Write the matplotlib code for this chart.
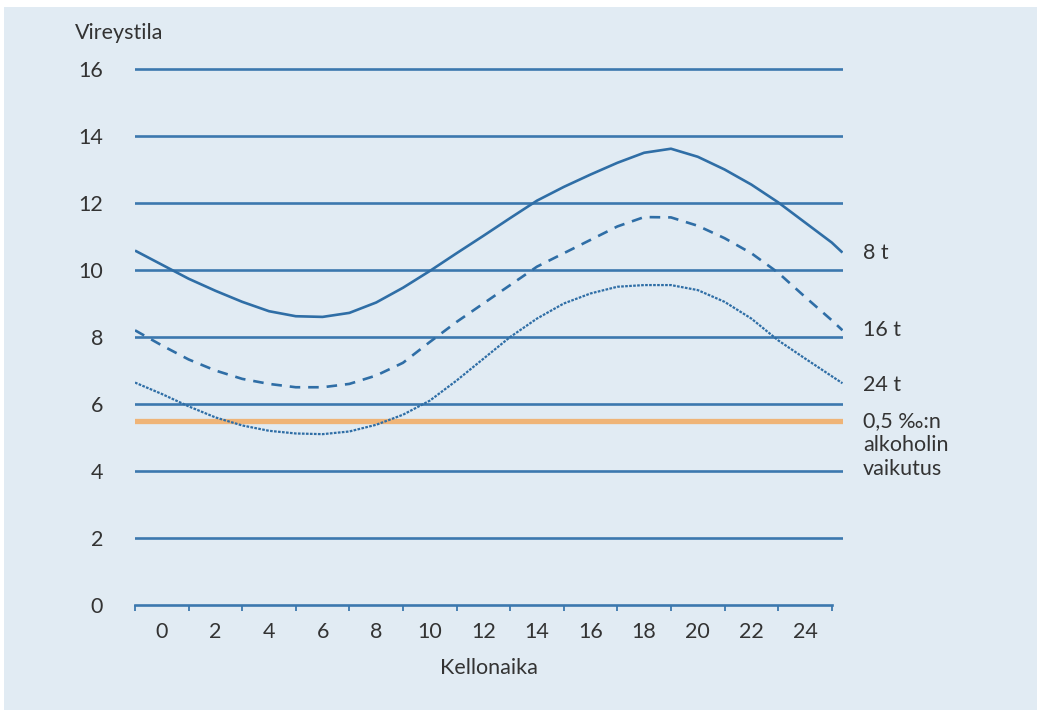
import matplotlib
matplotlib.use("Agg")
import matplotlib.pyplot as plt
from matplotlib.patches import Rectangle

plt.rcParams['font.family'] = ['Lato', 'DejaVu Sans']

# ---- data ----
hours = [-1, 0, 1, 2, 3, 4, 5, 6, 7, 8, 9, 10, 11, 12, 13, 14, 15, 16, 17, 18,
         19, 20, 21, 22, 23, 24, 25, 25.4]
awake_8h = [10.58, 10.16, 9.74, 9.38, 9.05, 8.77, 8.62, 8.60, 8.72, 9.03, 9.47, 9.97,
            10.50, 11.02, 11.55, 12.07, 12.48, 12.85, 13.20, 13.50, 13.62, 13.38,
            13.00, 12.55, 12.02, 11.42, 10.82, 10.52]
awake_16h = [8.20, 7.75, 7.33, 7.00, 6.75, 6.60, 6.50, 6.50, 6.60, 6.85, 7.23, 7.85,
             8.45, 9.00, 9.55, 10.10, 10.50, 10.90, 11.30, 11.58, 11.57, 11.32,
             10.95, 10.50, 9.92, 9.20, 8.50, 8.20]
awake_24h = [6.64, 6.30, 5.93, 5.60, 5.36, 5.20, 5.12, 5.10, 5.18, 5.38, 5.68, 6.10,
             6.70, 7.35, 8.00, 8.55, 9.00, 9.30, 9.50, 9.55, 9.55, 9.40,
             9.05, 8.55, 7.90, 7.36, 6.83, 6.62]
alcohol_level = 5.5
grid_values = [2, 4, 6, 8, 10, 12, 14, 16]
ytick_values = [0, 2, 4, 6, 8, 10, 12, 14, 16]
xlabel_values = list(range(0, 25, 2))
xtick_marks = list(range(-1, 26, 2))
curve_labels = ["8 t", "16 t", "24 t"]
alcohol_label = "0,5 \u2030:n\nalkoholin\nvaikutus"

W, H = 1039, 712
BLUE = '#2f6ea6'
GRID = '#3c78ae'
ORANGE = '#efb477'
TEXT = '#333333'
BG = '#e1ebf3'
FS = 15.5

fig = plt.figure(figsize=(W / 100, H / 100), dpi=100, facecolor='white')
fig.patches.append(Rectangle((4 / W, 2 / H), 1033 / W, 703 / H,
                             transform=fig.transFigure, facecolor=BG,
                             edgecolor='none', zorder=-10))

x0, x1 = -1, 25.42
left_px, right_px = 135, 843
y0_px = 605
px_per_unit = 33.5
ytop = 17
ax = fig.add_axes([left_px / W, (H - y0_px) / H, (right_px - left_px) / W,
                   ytop * px_per_unit / H])
ax.set_facecolor('none')
ax.set_xlim(x0, x1)
ax.set_ylim(0, ytop)

for g in grid_values:
    ax.axhline(g, color=GRID, lw=1.9, zorder=1)
ax.axhline(alcohol_level, color=ORANGE, lw=3.8, zorder=2)

ax.plot(hours, awake_8h, color=BLUE, lw=1.9, zorder=3, solid_capstyle='butt',
        solid_joinstyle='round')
ax.plot(hours, awake_16h, color=BLUE, lw=1.9, zorder=3, dashes=(4, 3))
ax.plot(hours, awake_24h, color=BLUE, lw=1.6, zorder=3, dashes=(1.2, 0.6))

for s in ['top', 'right', 'left']:
    ax.spines[s].set_visible(False)
ax.spines['bottom'].set_color(GRID)
ax.spines['bottom'].set_linewidth(1.9)
ax.spines['bottom'].set_bounds(-1, 25)

ax.set_xticks(xtick_marks)
ax.set_xticklabels([])
ax.tick_params(axis='x', which='major', direction='out', length=4, width=1.3,
               color=GRID)
ax.set_xticks(xlabel_values, minor=True)
ax.set_xticklabels([str(v) for v in xlabel_values], minor=True)
ax.tick_params(axis='x', which='minor', length=0, pad=12, labelsize=FS,
               labelcolor=TEXT)

ax.set_yticks(ytick_values)
ax.set_yticklabels([str(v) for v in ytick_values])
ax.tick_params(axis='y', length=0, pad=23, labelsize=FS, labelcolor=TEXT)

ax.set_xlabel("Kellonaika", fontsize=FS, color=TEXT, labelpad=12)
fig.text(75 / W, 1 - 33 / H, "Vireystila", fontsize=FS, color=TEXT,
         ha='left', va='center')

label_x = 25.42 + 20 / 26.8
ax.text(label_x, awake_8h[-1], curve_labels[0], fontsize=FS, color=TEXT,
        ha='left', va='center')
ax.text(label_x, awake_16h[-1], curve_labels[1], fontsize=FS, color=TEXT,
        ha='left', va='center')
ax.text(label_x, awake_24h[-1] - 0.05, curve_labels[2], fontsize=FS, color=TEXT,
        ha='left', va='center')
ax.text(label_x, alcohol_level + 0.3, alcohol_label, fontsize=FS, color=TEXT,
        ha='left', va='top', linespacing=1.25)

fig.savefig("out.png", dpi=100, facecolor='white')
